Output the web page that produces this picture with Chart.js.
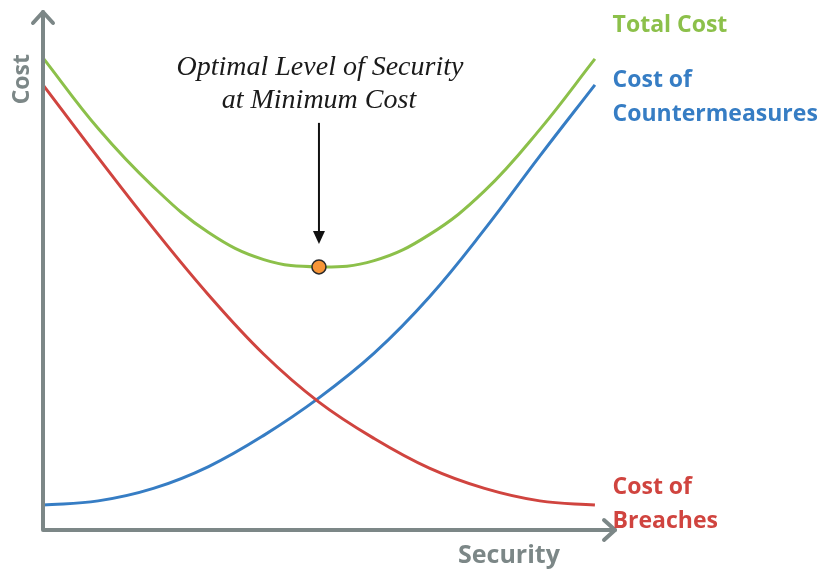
<!DOCTYPE html>
<html>
<head>
<meta charset="utf-8">
<title>Security cost trade-off</title>
<script src="https://cdn.jsdelivr.net/npm/chart.js@4"></script>
<style>
  html, body { margin: 0; padding: 0; background: #ffffff; }
  #wrap { width: 825px; height: 572px; }
</style>
</head>
<body>
<div id="wrap"><canvas id="chart" width="825" height="572"></canvas></div>
<script>
// Security level (0 = none, 100 = maximum)
const securityLevels = [0, 10, 20, 30, 40, 50, 60, 70, 80, 90, 100];

// Cost curves (relative units)
const costOfBreaches        = [85.6, 71.6, 58.0, 45.2, 33.8, 24.6, 17.6, 11.9, 8.0, 5.6, 4.8];
const costOfCountermeasures = [4.8, 5.6, 8.0, 12.2, 18.2, 25.4, 34.0, 44.8, 57.8, 71.9, 85.6];
const totalCost             = [90.8, 77.2, 66.0, 57.2, 52.0, 50.6, 51.8, 56.8, 65.2, 77.0, 90.6];

// Optimal point on the total cost curve
const optimalSecurity = 50;
const optimalCost = 50.6;

// Curve labels at the right-hand side
const totalLabel = ['Total Cost'];
const counterLabel = ['Cost of', 'Countermeasures'];
const breachLabel = ['Cost of', 'Breaches'];
const annotationLines = ['Optimal Level of Security', 'at Minimum Cost'];
const xTitle = 'Security';
const yTitle = 'Cost';

const GREEN = '#8cc04a';
const BLUE = '#367dc4';
const RED = '#d0443f';
const AXIS = '#7c8787';

const toPoints = (ys) => securityLevels.map((x, i) => ({ x: x, y: ys[i] }));

// Draws the arrowed axes, titles, curve labels and the annotation
const decorations = {
  id: 'decorations',
  afterDatasetsDraw(chart) {
    const { ctx, chartArea, scales } = chart;
    const xs = scales.x, ys = scales.y;
    const left = chartArea.left, bottom = chartArea.bottom;
    const top = chartArea.top, right = chartArea.right;

    ctx.save();
    // axes
    ctx.strokeStyle = AXIS;
    ctx.lineWidth = 4;
    ctx.lineCap = 'round';
    ctx.lineJoin = 'round';
    ctx.beginPath();
    ctx.moveTo(left, top + 2);
    ctx.lineTo(left, bottom);
    ctx.lineTo(right - 2, bottom);
    ctx.stroke();
    // arrowheads
    ctx.beginPath();
    ctx.moveTo(left - 10, top + 13);
    ctx.lineTo(left, top + 2);
    ctx.lineTo(left + 10, top + 13);
    ctx.moveTo(right - 13, bottom - 10);
    ctx.lineTo(right - 2, bottom);
    ctx.lineTo(right - 13, bottom + 10);
    ctx.stroke();

    // axis titles
    ctx.fillStyle = AXIS;
    ctx.textBaseline = 'middle';
    ctx.textAlign = 'left';
    ctx.font = 'bold 25px "Open Sans", sans-serif';
    ctx.fillText(xTitle, xs.getPixelForValue(75.2), bottom + 26);
    ctx.save();
    ctx.font = 'bold 23px "Open Sans", sans-serif';
    ctx.translate(left - 21, ys.getPixelForValue(86.7));
    ctx.rotate(-Math.PI / 2);
    ctx.textAlign = 'center';
    ctx.fillText(yTitle, 0, 0);
    ctx.restore();

    // curve labels
    const lx = xs.getPixelForValue(103.2);
    ctx.font = 'bold 23px "Open Sans", sans-serif';
    ctx.textAlign = 'left';
    ctx.fillStyle = GREEN;
    ctx.fillText(totalLabel[0], lx, 25);
    ctx.fillStyle = BLUE;
    ctx.fillText(counterLabel[0], lx, 80);
    ctx.fillText(counterLabel[1], lx, 114);
    ctx.fillStyle = RED;
    ctx.fillText(breachLabel[0], lx, 487);
    ctx.fillText(breachLabel[1], lx, 521);

    // annotation arrow and text
    const px = xs.getPixelForValue(optimalSecurity);
    const py = ys.getPixelForValue(optimalCost);
    ctx.strokeStyle = '#111111';
    ctx.fillStyle = '#111111';
    ctx.lineWidth = 2;
    ctx.lineCap = 'butt';
    ctx.beginPath();
    ctx.moveTo(px, py - 144);
    ctx.lineTo(px, py - 34);
    ctx.stroke();
    ctx.beginPath();
    ctx.moveTo(px - 6, py - 36);
    ctx.lineTo(px + 6, py - 36);
    ctx.lineTo(px, py - 23);
    ctx.closePath();
    ctx.fill();

    ctx.font = 'italic 28px "Liberation Serif", "DejaVu Serif", serif';
    ctx.textAlign = 'center';
    ctx.fillStyle = '#1a1a1a';
    ctx.fillText(annotationLines[0], px + 1, py - 199);
    ctx.fillText(annotationLines[1], px, py - 166);
    ctx.restore();
  }
};

const lineStyle = (color) => ({
  borderColor: color,
  backgroundColor: color,
  borderWidth: 3,
  pointRadius: 0,
  pointHoverRadius: 0,
  fill: false,
  tension: 0.4,
  clip: false,
  order: 1
});

new Chart(document.getElementById('chart'), {
  type: 'line',
  data: {
    datasets: [
      Object.assign({ label: 'Cost of Breaches', data: toPoints(costOfBreaches) }, lineStyle(RED)),
      Object.assign({ label: 'Cost of Countermeasures', data: toPoints(costOfCountermeasures) }, lineStyle(BLUE)),
      Object.assign({ label: 'Total Cost', data: toPoints(totalCost) }, lineStyle(GREEN)),
      {
        label: 'Optimal Level',
        type: 'scatter',
        data: [{ x: optimalSecurity, y: optimalCost }],
        pointRadius: 7,
        pointBackgroundColor: '#f79537',
        pointBorderColor: '#2a2a2a',
        pointBorderWidth: 1.5,
        clip: false,
        order: 0
      }
    ]
  },
  options: {
    responsive: false,
    animation: false,
    layout: { padding: { left: 43, right: 208, top: 10, bottom: 42 } },
    scales: {
      x: { type: 'linear', min: 0, max: 104, display: false },
      y: { type: 'linear', min: 0, max: 100, display: false }
    },
    plugins: {
      legend: { display: false },
      tooltip: { enabled: false }
    },
    events: []
  },
  plugins: [decorations]
});
</script>
</body>
</html>
